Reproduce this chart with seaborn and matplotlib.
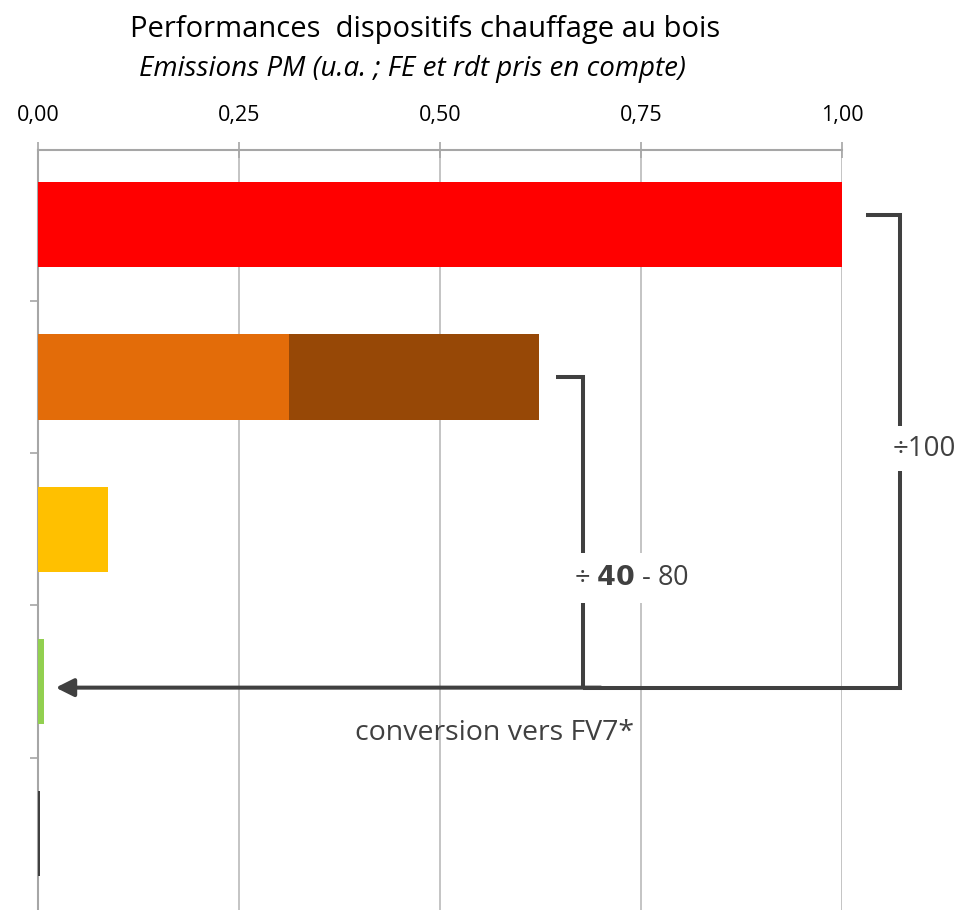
import numpy as np
import matplotlib
matplotlib.use("Agg")
import matplotlib.pyplot as plt
import pandas as pd
import seaborn as sns
from matplotlib.ticker import FuncFormatter, FixedLocator

# data (u.a.)
devices = ["D1", "D2", "D3", "D4", "D5"]
low_values = [1.00, 0.312, 0.087, 0.007, 0.002]
high_values = [1.00, 0.623, 0.087, 0.007, 0.002]
low_colors = ["#FF0000", "#E36C09", "#FFC000", "#92D050", "#404040"]
high_colors = ["#FF0000", "#974806", "#FFC000", "#92D050", "#404040"]
x_ticks = [0.0, 0.25, 0.5, 0.75, 1.0]

df = pd.DataFrame({"device": devices, "low": low_values, "high": high_values})

sns.set_theme(style="white")
plt.rcParams["font.family"] = ["Open Sans", "DejaVu Sans"]

fig = plt.figure(figsize=(9.59, 9.10), dpi=100)
ax = fig.add_axes([38 / 959, 0.0, (842 - 38) / 959, 1 - 150 / 910])

# stacked bars: total first, lower part on top
sns.barplot(data=df, y="device", x="high", hue="device", palette=high_colors,
            orient="h", width=0.56, saturation=1, linewidth=0, legend=False,
            ax=ax, zorder=2)
sns.barplot(data=df, y="device", x="low", hue="device", palette=low_colors,
            orient="h", width=0.56, saturation=1, linewidth=0, legend=False,
            ax=ax, zorder=3)

ax.set_xlim(0, 1.0)
ax.set_ylim(4.5, -0.49)
ax.set_xlabel("")
ax.set_ylabel("")

ax.xaxis.tick_top()
ax.set_xticks(x_ticks)
ax.xaxis.set_major_formatter(FuncFormatter(lambda v, p: f"{v:.2f}".replace(".", ",")))
ax.tick_params(axis="x", which="major", direction="inout", length=12, width=1.2,
               color="#A6A6A6", labelsize=15.5, labelcolor="#000000", pad=11)
ax.set_yticks([])
ax.yaxis.set_minor_locator(FixedLocator([0.5, 1.5, 2.5, 3.5]))
ax.tick_params(axis="y", which="minor", direction="out", length=6, width=1.2,
               color="#A6A6A6", left=True)
ax.grid(axis="x", color="#BFBFBF", linewidth=1.3, zorder=0)
ax.set_axisbelow(True)

for side in ["right", "bottom"]:
    ax.spines[side].set_visible(False)
for side in ["top", "left"]:
    ax.spines[side].set_color("#A6A6A6")
    ax.spines[side].set_linewidth(1.5)

# annotation brackets and arrow
line_kw = dict(color="#404040", linewidth=2.9, clip_on=False, zorder=4,
               solid_capstyle="butt", solid_joinstyle="miter")
arrow_y = 3.04
ax.plot([1.03, 1.072, 1.072, 0.678], [-0.065, -0.065, arrow_y, arrow_y], **line_kw)
ax.plot([0.644, 0.678, 0.678], [1.0, 1.0, arrow_y], **line_kw)
ax.annotate("", xy=(0.022, arrow_y), xytext=(0.7, arrow_y),
            arrowprops=dict(arrowstyle="-|>,head_length=0.9,head_width=0.45",
                            color="#404040", lw=2.9, shrinkA=0, shrinkB=0),
            annotation_clip=False, zorder=4)

ax.text(1.102, 1.47, "÷100", fontsize=20, color="#404040", ha="center",
        va="center", bbox=dict(facecolor="white", edgecolor="none", pad=6),
        zorder=5, clip_on=False)
ax.text(0.738, 2.32, r"÷ $\mathbf{40}$ - 80", fontsize=19.5, color="#404040",
        ha="center", va="center",
        bbox=dict(facecolor="white", edgecolor="none", pad=8), zorder=5)
ax.text(0.568, 3.34, "conversion vers FV7*", fontsize=20.5, color="#404040",
        ha="center", va="center", zorder=5)

fig.text(0.443, 1 - 30 / 910, "Performances  dispositifs chauffage au bois",
         fontsize=21, ha="center", va="center", color="#000000")
fig.text(0.430, 1 - 69 / 910, "Emissions PM (u.a. ; FE et rdt pris en compte)",
         fontsize=20, style="italic", ha="center", va="center", color="#000000")

fig.savefig("out.png", dpi=100)
